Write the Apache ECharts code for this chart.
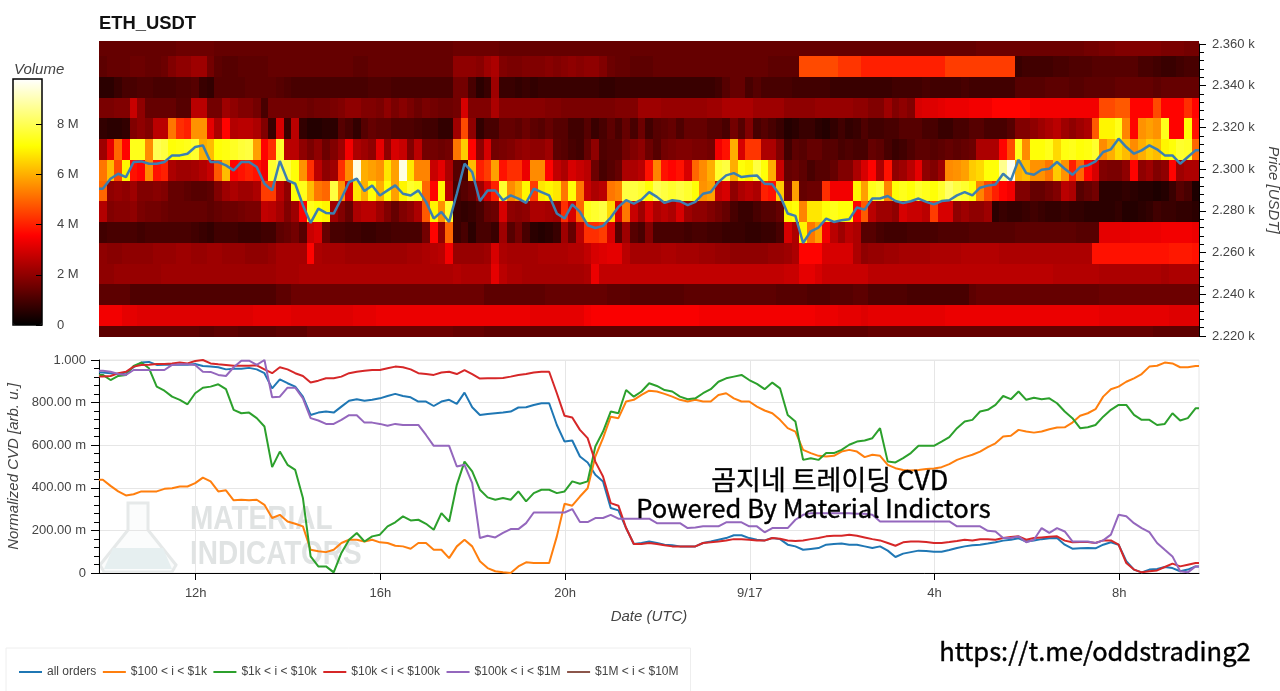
<!DOCTYPE html>
<html><head><meta charset="utf-8">
<style>html,body{margin:0;padding:0;background:#fff}#c{width:1280px;height:691px}</style>
<script src="https://cdn.jsdelivr.net/npm/echarts@6/dist/echarts.min.js"></script>
</head><body><div id="c"></div>
<script>
const PRICE_LEVELS=[2219.85,2229.8,2239.75,2249.7,2259.65,2269.6,2279.55,2289.5,2299.45,2309.4,2319.35,2329.3,2339.25,2349.2,2359.15];
// volume per column, tenths of a million
const r2220=[13,13,13,13,13,13,13,13,13,13, 13,13,13,12,12,13,13,13,12,12, 12,12,12,13,13,13,13,15,15,15, 15,15,15,15,15,15,15,15,15,15, 15,15,15,15,15,15,14,14,14,14, 13,13,13,13,13,13,13,13,13,13, 13,13,13,13,13,13,13,13,13,13, 13,13,13,13,13,13,13,13,13,13, 13,13,13,13,13,13,13,13,13,13, 13,13,13,13,13,13,13,13,13,13, 14,14,14,14,14,14,14,14,14,14, 14,14,14,14,14,14,14,14,14,14, 14,14,14,14,14,14,14,14,14,14, 14,14,14,14,14,14,14,13,13,13,13,13,13];
const r2230=[34,34,34,32,32,31,31,31,31,31, 31,31,31,31,31,31,31,31,31,31, 32,32,32,32,32,31,31,31,31,31, 31,31,31,32,32,32,33,33,33,33, 33,33,33,33,33,33,33,33,33,33, 33,33,33,33,33,33,32,32,32,32, 32,32,32,34,35,35,35,35,35,35, 35,35,35,35,35,35,35,35,34,34, 34,34,34,34,34,34,34,34,34,34, 34,34,34,33,33,33,32,32,32,31, 32,32,32,32,32,32,32,32,32,32, 33,33,33,33,33,33,33,33,33,33, 33,33,33,33,33,33,33,33,33,33, 32,32,32,32,32,32,32,32,32,31,31,31,31];
const r2240=[13,13,13,13,11,11,11,11,11,11, 11,11,11,11,11,11,11,11,11,11, 11,11,11,13,13,15,15,15,15,15, 15,15,15,15,15,15,15,15,15,15, 15,15,15,15,15,15,15,15,15,15, 13,13,13,13,13,13,13,13,14,14, 14,14,14,14,14,14,13,13,13,12, 12,12,12,12,12,12,13,13,13,13, 13,13,13,13,13,13,13,13,12,12, 12,12,11,11,11,12,12,12,13,13, 11,11,11,11,11,10,10,10,10,10, 10,10,10,13,14,14,14,14,14,14, 14,14,14,14,14,14,14,14,14,14, 15,15,15,15,15,15,15,15,15,15,15,15,15];
const r2250=[20,20,21,21,21,21,21,21,22,22, 22,22,22,22,22,22,22,22,22,22, 22,22,22,23,23,23,24,24,24,24, 24,24,24,24,24,24,24,24,24,24, 24,24,24,24,24,24,25,24,24,24, 24,32,26,24,24,23,23,23,23,23, 23,23,23,24,33,27,27,27,27,27, 27,27,27,27,27,27,27,27,27,27, 27,27,27,27,27,27,27,27,27,28, 28,32,32,30,28,28,28,28,28,28, 26,26,26,26,26,26,26,26,26,26, 26,26,26,26,26,26,26,26,26,26, 26,26,26,26,25,25,25,25,25,25, 24,24,24,24,24,24,24,24,23,24,24,24,24];
const r2260=[20,19,19,20,20,20,20,21,21,21, 22,22,21,21,22,22,21,21,21,20, 20,20,21,23,23,23,23,36,24,23, 23,23,22,22,22,22,22,22,22,22, 23,23,24,25,26,34,21,21,21,21, 22,30,24,23,23,23,23,24,24,24, 24,25,25,27,30,31,32,32,26,23, 23,23,23,24,24,23,23,23,22,22, 21,21,20,20,20,20,20,21,21,22, 24,36,36,36,30,30,30,30,24,20, 21,21,22,22,23,23,23,23,24,24, 24,24,25,25,25,25,25,24,24,24, 24,24,24,24,24,24,24,24,24,38, 38,38,38,38,38,38,38,38,38,39,39,39,38];
const r2270=[9,10,10,10,10,9,10,10,10,10, 10,10,9,8,7,9,9,9,8,8, 8,9,9,13,14,16,12,28,30,14, 10,10,9,9,8,8,9,9,10,10, 10,10,16,36,20,50,8,10,6,10, 10,8,22,12,16,10,6,5,6,8, 22,14,26,42,42,44,30,12,22,12, 10,18,10,10,10,10,9,10,10,9, 9,8,8,8,7,7,8,8,10,30, 24,70,52,58,34,26,22,26,24,12, 12,10,9,9,9,10,10,10,10,11, 11,11,11,12,12,12,12,12,12,13, 13,13,13,13,13,13,13,12,12,12, 32,32,32,32,33,33,33,33,34,34,34,34,33];
const r2280=[25,18,19,19,20,17,16,16,15,14, 14,14,14,14,13,14,15,15,16,17, 17,27,26,23,18,22,36,74,72,70, 22,18,14,24,26,26,22,18,14,18, 20,24,48,70,56,76,8,7,8,10, 14,15,30,20,19,20,24,24,23,22, 42,30,50,74,76,78,66,30,52,28, 22,30,24,26,24,30,22,20,20,18, 16,14,10,8,8,10,12,12,14,70, 72,54,68,68,72,74,72,72,36,48, 26,22,22,20,30,28,28,26,44,30, 30,20,22,20,20,22,6,8,7,7, 8,9,8,7,7,8,7,7,6,6, 6,6,7,5,5,6,7,9,8,8,7,7,6];
const r2290=[50,20,21,20,22,18,18,19,18,14, 14,13,12,12,13,18,22,24,22,22, 24,44,44,26,20,72,74,62,52,50, 78,56,30,68,60,72,60,72,58,70, 76,74,50,36,70,26,10,12,14,22, 30,40,76,55,60,70,44,68,70,68, 52,72,52,28,24,26,52,54,78,78, 76,72,80,78,76,78,76,72,56,58, 28,30,20,24,26,24,40,38,64,18, 58,14,15,15,42,34,34,34,70,58, 74,76,54,72,74,72,76,74,72,76, 82,78,76,72,54,46,40,36,34,18, 18,14,14,16,18,26,24,12,14,16, 6,6,6,7,6,5,5,4,5,8,12,10,4];
const r2300=[52,62,46,70,38,36,55,38,40,24, 22,22,23,25,28,48,62,36,38,40, 38,34,76,80,78,72,56,42,26,20, 22,42,55,95,60,58,56,68,58,95, 68,54,54,28,32,24,12,10,62,40, 44,58,38,42,42,33,55,55,36,27, 24,30,28,26,15,10,12,14,24,24, 26,38,54,38,36,38,30,50,55,60, 76,78,60,72,70,78,72,60,28,14, 15,13,10,12,12,14,18,18,24,30, 36,24,38,20,22,26,32,20,18,22, 55,56,58,64,66,72,72,86,96,60, 62,56,56,52,64,56,40,50,36,30, 18,17,17,20,36,20,22,18,20,36,22,24,24];
const r2310=[22,32,50,36,74,74,55,80,78,72, 73,74,76,60,62,72,73,75,77,78, 58,36,42,76,26,26,20,17,20,15, 18,22,34,24,22,20,32,20,30,28, 18,26,16,16,15,16,52,64,36,20, 30,16,17,18,20,21,20,20,22,13, 12,10,9,14,20,11,12,12,16,18, 20,15,12,16,17,18,18,17,17,16, 34,38,60,30,43,43,24,24,18,9, 13,12,14,14,12,12,10,11,10,10, 14,13,10,8,9,11,13,13,12,13, 14,13,14,15,24,24,24,36,46,74, 55,72,72,74,66,73,74,72,73,76, 55,60,66,62,55,60,64,62,70,72,76,75,50];
const r2320=[7,6,6,7,18,20,18,26,26,52, 42,40,56,56,32,24,36,25,26,26, 24,18,8,30,8,26,7,5,5,6, 6,12,10,7,12,14,13,13,11,11, 11,10,9,9,7,7,22,46,20,7, 10,10,14,14,13,15,13,12,14,12, 12,9,9,12,8,10,13,10,14,10, 15,9,12,13,14,11,14,14,14,12, 12,10,16,12,18,10,12,10,8,5, 6,8,8,6,5,7,9,7,8,11, 9,9,10,10,12,12,12,10,10,8, 8,10,10,12,12,10,10,10,12,18, 18,20,22,24,26,22,20,22,24,48, 70,70,74,54,36,56,58,56,74,36,36,72,38];
const r2330=[17,17,18,18,28,20,14,14,14,14, 12,12,26,26,16,16,22,20,18,18, 16,10,16,16,16,16,16,15,16,16, 17,18,20,20,18,18,17,20,17,19, 17,15,17,16,15,15,16,30,18,18, 18,24,19,19,19,19,19,19,18,18, 17,17,17,17,17,17,17,18,18,18, 22,22,22,21,21,21,21,21,21,22, 22,24,24,24,24,22,22,22,22,20, 20,20,20,21,21,21,21,21,20,20, 18,18,22,18,20,18,30,31,31,32, 33,33,33,34,34,34,36,36,36,36, 36,34,34,34,34,34,34,34,34,34, 46,46,48,48,36,36,36,46,36,36,36,42,36];
const r2340=[6,6,8,10,10,11,11,10,10,10, 11,11,12,8,7,12,12,12,12,13, 13,13,13,12,11,10,10,10,10,10, 10,10,10,10,10,11,11,11,10,10, 10,10,10,10,10,10,16,16,10,6, 8,22,8,8,7,8,7,8,8,8, 8,8,8,8,8,7,7,8,8,8, 8,8,8,8,8,8,8,8,8,8, 9,12,14,14,10,12,10,10,10,10, 9,9,9,9,9,8,8,8,8,8, 8,8,8,9,9,9,9,10,9,9, 9,9,10,9,9,9,9,9,9,12, 12,12,12,13,13,13,12,12,13,13, 13,13,14,14,14,14,14,13,14,14,14,14,14];
const r2350=[13,14,14,14,15,15,14,14,15,18, 20,20,22,22,16,13,12,12,13,13, 13,13,14,14,14,14,14,14,14,14, 14,14,14,13,13,14,14,14,14,14, 14,14,14,14,14,14,20,20,20,19, 22,24,18,17,17,18,18,18,19,18, 19,20,19,20,20,18,15,14,14,13, 13,13,14,14,14,14,14,14,14,14, 14,14,14,14,14,14,14,13,13,13, 13,46,46,46,46,46,43,43,43,40, 40,40,40,40,40,40,40,40,40,40, 44,44,44,44,44,44,44,44,44,8, 9,9,9,9,10,10,11,11,11,12, 12,12,12,12,12,10,10,9,8,8,9,10,10];
const r2360=[14,14,14,14,14,14,14,14,14,14, 15,15,15,15,15,14,14,14,14,14, 14,14,14,14,14,14,14,14,14,14, 14,14,14,14,14,14,14,14,14,14, 14,14,14,14,14,14,15,15,15,15, 15,15,14,14,14,14,14,14,14,14, 14,14,14,14,14,14,14,14,14,14, 14,14,14,14,14,14,14,14,14,14, 14,14,14,14,14,14,14,14,14,14, 14,14,14,14,14,14,14,14,14,14, 14,14,14,14,14,14,14,14,14,14, 14,14,14,14,15,15,15,15,15,15, 15,15,15,15,15,15,15,15,16,16, 17,17,18,18,18,18,18,18,17,17,17,16,16];
const volumeRows=[r2220,r2230,r2240,r2250,r2260,r2270,r2280,r2290,r2300,r2310,r2320,r2330,r2340,r2350,r2360];

const lastPrice=[2290.6,2295.4,2297.8,2296.2,2303.4,2303.7,2302.6,2302.6,2303.4,2306.6, 2306.6,2307.4,2310.6,2311.4,2303.4,2303.4,2301.8,2299.4,2303.4,2303.4, 2301.0,2293.0,2289.8,2303.9,2294.6,2293.0,2282.7,2274.2,2281.1,2279.0, 2278.7,2285.9,2293.8,2295.4,2289.5,2292.2,2287.4,2289.8,2292.2,2288.2, 2287.4,2289.8,2284.3,2276.3,2279.5,2274.7,2288.2,2302.6,2298.6,2284.7,2289.8, 2289.8,2285.1,2287.4,2285.9,2283.8,2290.6,2289.0,2287.4,2278.7,2276.3, 2283.1,2279.5,2273.1,2271.8,2272.8,2276.8,2281.9,2285.1,2283.5,2285.4, 2289.0,2286.7,2283.8,2285.1,2284.6,2282.7,2284.3,2288.2,2289.0,2293.8, 2297.0,2298.1,2296.2,2296.7,2297.0,2293.0,2292.7,2287.4,2278.7,2277.6, 2264.6,2270.2,2272.0,2276.3,2274.7,2275.5,2276.0,2281.6,2280.6,2285.9, 2285.9,2287.1,2284.7,2283.8,2284.6,2285.9,2284.3,2283.1,2284.7,2285.1, 2287.4,2289.0,2287.4,2291.1,2292.1,2292.6,2297.8,2294.6,2304.5,2298.1, 2297.3,2299.7,2300.2,2303.4,2300.2,2297.3,2301.0,2301.8,2303.7,2308.2, 2309.5,2314.6,2310.6,2307.4,2309.0,2311.4,2309.5,2306.6,2306.6,2302.6,2305.8,2309.0];

// normalized CVD, milli-units
const cvdAll=[941,938,934,941,966,988,991,977,978,978, 978,978,981,972,969,966,956,959,959,963, 956,938,867,909,891,875,828,742,753,758, 753,781,809,816,809,813,820,831,841,831, 825,805,805,784,805,813,794,847,778,742,747, 750,753,758,777,778,789,797,797,695,617, 622,547,519,461,430,305,294,211,136,141, 148,141,133,130,125,125,125,141,148,156, 164,177,177,164,156,153,164,159,133,125, 109,113,117,133,136,138,133,133,125,117, 125,105,75,91,98,105,103,100,100,108, 117,125,130,133,138,144,152,156,163,148, 153,159,163,164,133,114,116,117,116,133, 144,133,55,16,3,16,19,28,23,8, 16,31];
const cvd100=[438,409,383,364,370,383,383,383,395,398, 406,406,422,448,430,383,388,341,344,341, 344,320,258,273,242,231,219,109,102,98, 109,141,156,156,148,156,144,141,128,125, 114,141,141,109,109,70,125,156,125,55,23, 8,3,0,31,50,47,47,47,172,325, 316,359,398,547,633,734,727,805,813,836, 856,852,841,828,813,805,813,805,805,836, 844,820,805,805,781,763,750,719,680,664, 578,563,550,547,550,570,578,570,544,555, 550,508,492,484,481,484,488,491,497,511, 531,544,555,570,591,609,641,644,672,664, 659,664,675,683,684,706,738,750,769,828, 863,875,898,914,934,969,973,988,984,966, 966,972];
const cvd1k=[930,906,925,930,972,988,961,875,856,828, 813,792,844,870,875,886,863,766,750,753, 727,688,497,570,508,484,352,78,31,31, 3,94,156,188,148,172,180,219,238,266, 247,250,231,203,281,242,414,523,477,391,355, 344,352,344,383,336,375,391,391,375,383, 430,419,430,594,664,758,750,859,828,852, 891,878,859,852,828,816,820,844,863,898, 914,922,930,906,888,863,894,867,742,711, 531,539,531,563,563,578,602,617,622,633, 680,523,519,539,563,597,597,597,617,638, 680,711,719,758,766,789,831,816,852,813, 823,816,820,797,758,727,680,684,695,734, 766,789,789,742,719,719,695,700,750,716, 727,773];
const cvd10k=[922,925,938,945,969,977,978,981,981,984, 988,984,995,1000,984,980,977,973,973,973, 975,956,938,966,956,938,925,894,903,914, 914,922,938,945,950,953,953,961,969,966, 956,938,934,930,941,945,934,953,934,913,914, 914,916,922,930,934,941,945,945,844,738, 730,672,633,523,453,328,316,211,136,136, 141,136,130,125,125,125,125,141,144,148, 153,159,159,156,153,152,164,161,153,150, 153,159,164,172,175,175,180,175,167,159, 153,141,128,144,148,148,145,141,141,145, 150,156,153,158,159,156,164,169,172,156, 164,167,170,172,152,144,145,145,141,153, 153,133,47,16,3,8,12,28,44,31, 39,47];
const cvd100k=[950,945,934,930,953,953,953,953,953,977, 980,980,977,945,944,930,925,966,997,997, 977,1000,825,828,870,870,820,727,716,700, 700,719,741,741,706,706,700,691,700,695, 695,695,648,597,597,597,500,508,422,164,175, 167,188,206,206,234,284,284,284,284,284, 300,239,239,258,258,273,255,255,255,255, 255,234,234,234,234,211,214,219,219,219, 238,238,238,219,219,191,211,211,211,250, 273,281,281,281,281,281,281,278,278,273, 242,242,242,242,242,242,242,242,242,242, 219,219,219,219,198,195,164,164,172,144, 156,211,188,211,195,148,148,148,141,153, 180,273,266,234,211,192,141,109,78,8, 3,31];
const cvd1M=[];

const seriesNames=['all orders','$100 < i < $1k','$1k < i < $10k','$10k < i < $100k','$100k < i < $1M','$1M < i < $10M'];
const cvdSeries=[cvdAll,cvd100,cvd1k,cvd10k,cvd100k,cvd1M];
const seriesColors=['#1f77b4','#ff7f0e','#2ca02c','#d62728','#9467bd','#8c564b'];
const tickHours=[12,16,20,24,28,32];
const tickLabels=['12h','16h','20h','9/17','4h','8h'];
const volumeTicks=[0,20,40,60,80];

const FIRST_HOUR=9.905, LAST_HOUR=33.73, COL_HOURS=1/6, ROW_USD=9.95;
const PRICE_TOP=2361.4, PRICE_BOTTOM=2219.5;
const times=lastPrice.map((_,i)=>FIRST_HOUR+(i+0.5)*COL_HOURS);

const cells=[];
volumeRows.forEach((row,j)=>row.forEach((v,i)=>cells.push([times[i],PRICE_LEVELS[j],v])));
const toLine=arr=>arr.length?[[FIRST_HOUR,arr[0]],...arr.map((v,i)=>[times[i],v]),[LAST_HOUR,arr[arr.length-1]]]:[];

const FONT='"Liberation Sans",Helvetica,Arial,sans-serif';
const KR='"Noto Sans CJK KR","Noto Sans",sans-serif';
const axisText={color:'#444',fontFamily:FONT,fontSize:13};
const nameText={color:'#444',fontFamily:FONT,fontSize:15,fontStyle:'italic'};

const chart=echarts.init(document.getElementById('c'),null,{renderer:'canvas'});
chart.setOption({
  animation:false,backgroundColor:'#fff',
  grid:[
    {left:99,width:1100,top:44,height:292,outerBoundsMode:'none'},
    {left:99,width:1100,top:360,height:213,show:true,borderColor:'#e6e6e6',borderWidth:1,backgroundColor:'transparent',outerBoundsMode:'none'},
    {left:13,width:29,top:79,height:246,show:true,borderColor:'#000',borderWidth:1.5,backgroundColor:'transparent',z:10,outerBoundsMode:'none'}
  ],
  xAxis:[
    {gridIndex:0,type:'value',min:FIRST_HOUR,max:LAST_HOUR,show:false},
    {gridIndex:1,type:'value',min:FIRST_HOUR,max:LAST_HOUR,
      name:'Date (UTC)',nameLocation:'middle',nameGap:36,nameTextStyle:nameText,
      axisLine:{onZero:false,lineStyle:{color:'#000',width:1}},
      axisTick:{customValues:tickHours,length:7,lineStyle:{color:'#000'}},
      axisLabel:{customValues:tickHours,margin:14,...axisText,formatter:v=>tickLabels[tickHours.indexOf(v)]},
      splitLine:{show:true,lineStyle:{color:'#e6e6e6'}}},
    {gridIndex:2,type:'value',min:0,max:1,show:false}
  ],
  yAxis:[
    {gridIndex:0,type:'value',position:'right',min:2220,max:2360,interval:20,
      name:'Price [USDT]',nameLocation:'middle',nameRotate:-90,nameGap:59,nameTextStyle:nameText,
      axisLine:{show:true,onZero:false,lineStyle:{color:'#000'}},
      axisTick:{show:true,length:7,lineStyle:{color:'#000'}},
      minorTick:{show:true,splitNumber:5,length:5,lineStyle:{color:'#000'}},
      axisLabel:{margin:13,...axisText,formatter:v=>(v/1000).toFixed(3)+' k'},
      splitLine:{show:false}},
    {gridIndex:1,type:'value',min:0,max:1000,interval:200,
      name:'Normalized CVD [arb. u.]',nameLocation:'middle',nameRotate:90,nameGap:68,nameTextStyle:nameText,
      axisLine:{show:true,onZero:false,lineStyle:{color:'#000'}},
      axisTick:{show:true,length:8,lineStyle:{color:'#000'}},
      minorTick:{show:true,splitNumber:5,length:5,lineStyle:{color:'#000'}},
      axisLabel:{margin:13,...axisText,formatter:v=>v===0?'0':v===1000?'1.000':v.toFixed(2)+' m'},
      splitLine:{show:true,lineStyle:{color:'#e6e6e6'}}},
    {gridIndex:2,type:'value',position:'right',min:0,max:98,z:12,
      axisLine:{show:false,onZero:false},
      axisTick:{show:true,inside:true,length:6,customValues:volumeTicks,lineStyle:{color:'#000'}},
      axisLabel:{customValues:volumeTicks,margin:15,...axisText,formatter:v=>v===0?'0':(v/10)+' M'},
      splitLine:{show:false}}
  ],
  visualMap:{type:'continuous',seriesIndex:0,dimension:2,min:0,max:98,left:13,top:79,itemWidth:29,itemHeight:246,padding:0,
    calculable:false,realtime:false,hoverLink:false,z:4,
    inRange:{color:['#000000','#400000','#800000','#bf0000','#ff0000','#ff4000','#ff8000','#ffbf00','#ffff00','#ffff55','#ffffaa','#ffffff']}},
  legend:{left:6,top:648,data:seriesNames,icon:'rect',itemWidth:23,itemHeight:2,itemGap:6.5,
    padding:[18,12,14,13],borderColor:'#eee',borderWidth:1,
    textStyle:{color:'#444',fontFamily:FONT,fontSize:12}},
  series:[
    {type:'custom',xAxisIndex:0,yAxisIndex:0,data:cells,clip:false,silent:true,z:1,encode:{x:0,y:1},
      renderItem:(p,api)=>{
        const t=api.value(0),pr=api.value(1);
        const a=api.coord([t-COL_HOURS/2,Math.min(pr+ROW_USD/2,PRICE_TOP)]);
        const b=api.coord([t+COL_HOURS/2,Math.max(pr-ROW_USD/2,PRICE_BOTTOM)]);
        const x0=Math.round(a[0]),y0=Math.round(a[1]),x1=Math.round(b[0]),y1=Math.round(b[1]);
        return {type:'rect',shape:{x:x0,y:y0,width:x1-x0,height:y1-y0},style:{fill:api.visual('color')}};
      }},
    {type:'line',name:'price',xAxisIndex:0,yAxisIndex:0,data:toLine(lastPrice),showSymbol:false,silent:true,z:3,
      lineStyle:{color:'#3c7fb1',width:2.5}},
    ...seriesNames.map((n,k)=>({type:'line',name:n,xAxisIndex:1,yAxisIndex:1,
      data:toLine(cvdSeries[k]),showSymbol:false,silent:true,z:3,
      color:seriesColors[k],lineStyle:{color:seriesColors[k],width:2}}))
  ],
  graphic:[
    {type:'text',left:99,top:15,z:20,style:{text:'ETH_USDT',font:'bold 18.4px '+FONT,fill:'#111'}},
    {type:'text',left:14,top:62,z:20,style:{text:'Volume',font:'italic 15px '+FONT,fill:'#444'}},
    {type:'polygon',z:0,shape:{points:[[128,503],[148,503],[148,530],[176,565],[172,572],[104,572],[100,565],[128,530]]},style:{fill:'#fbfcfc',stroke:'#e6e9e9',lineWidth:3}},
    {type:'polygon',z:0,shape:{points:[[113,548],[163,548],[172,569],[104,569]]},style:{fill:'#e6eff0'}},
    {type:'text',x:190,y:503,scaleY:1.2,z:0,style:{text:'MATERIAL',font:'bold 28px '+FONT,fill:'#e0e3e3'}},
    {type:'text',x:190,y:538,scaleY:1.2,z:0,style:{text:'INDICATORS',font:'bold 28px '+FONT,fill:'#e0e3e3'}},
    {type:'text',left:711,top:466,z:30,style:{text:'곰지네 트레이딩 CVD',font:'27px '+KR,fill:'#000',stroke:'#000',lineWidth:0.4}},
    {type:'text',left:636,top:495,z:30,style:{text:'Powered By Material Indictors',font:'25.6px '+KR,fill:'#000',stroke:'#000',lineWidth:0.4}},
    {type:'text',left:939,top:638,z:30,style:{text:'https://t.me/oddstrading2',font:'25.5px '+KR,fill:'#000',stroke:'#000',lineWidth:0.4}}
  ]
});
</script></body></html>
